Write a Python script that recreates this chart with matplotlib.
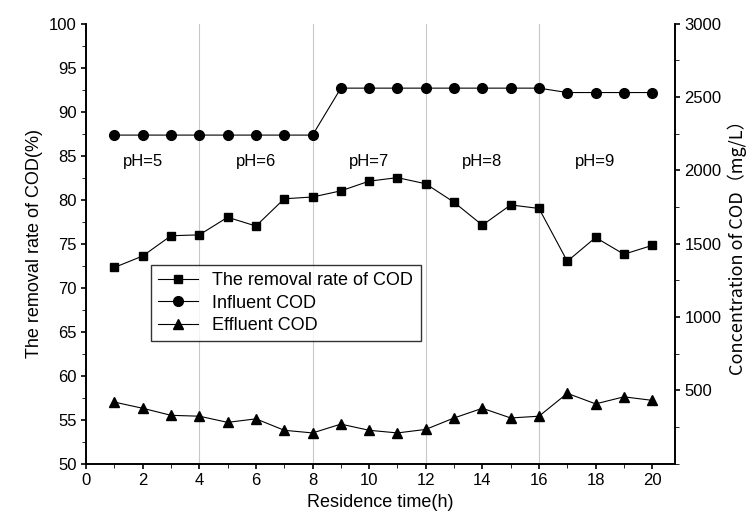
import matplotlib
matplotlib.use('Agg')
import matplotlib.pyplot as plt
from matplotlib.ticker import MultipleLocator

plt.rcParams['font.family'] = ['Liberation Sans', 'DejaVu Sans']

hours = list(range(1, 21))
removal = [72.3, 73.6, 75.9, 76.0, 78.0, 77.0, 80.1, 80.3, 81.0, 82.1,
           82.5, 81.8, 79.7, 77.1, 79.4, 79.0, 73.0, 75.7, 73.8, 74.8]
influent = [2240]*8 + [2560]*8 + [2530]*4
effluent = [420, 378, 330, 324, 282, 306, 228, 210, 270, 228,
            210, 234, 312, 378, 312, 324, 480, 408, 456, 432]
ph_x = [2, 6, 10, 14, 18]
ph_labels = ['pH=5', 'pH=6', 'pH=7', 'pH=8', 'pH=9']
boundaries = [4, 8, 12, 16]

fig = plt.figure(figsize=(7.49, 5.24), dpi=100)
ax = fig.add_axes([0.115, 0.115, 0.786, 0.84])
ax2 = ax.twinx()

for b in boundaries:
    ax.axvline(b, color='#c8c8c8', lw=0.8, zorder=0)

l1, = ax.plot(hours, removal, '-s', color='black', lw=0.8, ms=6, label='The removal rate of COD')
l2, = ax2.plot(hours, influent, '-o', color='black', lw=0.8, ms=7, label='Influent COD')
l3, = ax2.plot(hours, effluent, '-^', color='black', lw=0.8, ms=7, label='Effluent COD')

for x, t in zip(ph_x, ph_labels):
    ax.text(x, 84.3, t, ha='center', va='center', fontsize=12)

ax.set_xlim(0, 20.8)
ax.set_ylim(50, 100)
ax2.set_ylim(0, 3000)
ax.xaxis.set_major_locator(MultipleLocator(2))
ax.xaxis.set_minor_locator(MultipleLocator(1))
ax.yaxis.set_major_locator(MultipleLocator(5))
ax.yaxis.set_minor_locator(MultipleLocator(2.5))
ax2.set_yticks([500, 1000, 1500, 2000, 2500, 3000])
ax2.yaxis.set_minor_locator(MultipleLocator(250))
for a in (ax, ax2):
    a.tick_params(labelsize=12, width=1.2)
    a.tick_params(which='minor', length=3)
    for s in a.spines.values():
        s.set_linewidth(1.2)
ax.spines['top'].set_visible(False)
ax2.spines['top'].set_visible(False)

ax.set_xlabel('Residence time(h)', fontsize=13)
ax.set_ylabel('The removal rate of COD(%)', fontsize=13)
ax2.set_ylabel('Concentration of COD\uff08mg/L\uff09', fontsize=13,
               family=['Noto Sans CJK SC', 'DejaVu Sans'])

ax2.legend(handles=[l1, l2, l3], loc='center left', bbox_to_anchor=(0.095, 0.365),
           fontsize=13, frameon=True, fancybox=False, edgecolor='black',
           handlelength=2.2, borderpad=0.4, labelspacing=0.3)

fig.savefig('out.png')
